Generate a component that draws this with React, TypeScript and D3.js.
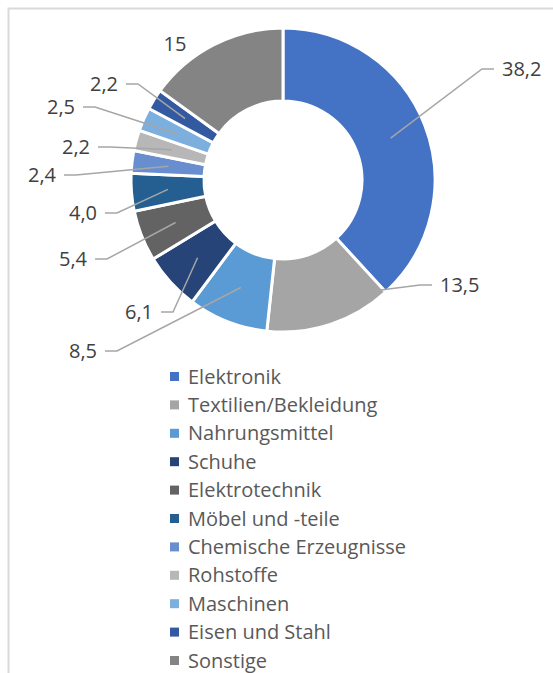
import React, { useEffect, useRef } from "react";
import * as d3 from "d3";

const categories = [
  "Elektronik",
  "Textilien/Bekleidung",
  "Nahrungsmittel",
  "Schuhe",
  "Elektrotechnik",
  "Möbel und -teile",
  "Chemische Erzeugnisse",
  "Rohstoffe",
  "Maschinen",
  "Eisen und Stahl",
  "Sonstige",
];
const values = [38.2, 13.5, 8.5, 6.1, 5.4, 4.0, 2.4, 2.2, 2.5, 2.2, 15];
const valueLabels = ["38,2", "13,5", "8,5", "6,1", "5,4", "4,0", "2,4", "2,2", "2,5", "2,2", "15"];
const colors = [
  "#4472C4", "#A5A5A5", "#5B9BD5", "#264478", "#636363",
  "#255E91", "#698ED0", "#B7B7B7", "#7CAFDD", "#335AA1", "#848484",
];

// label layout (relative to the donut centre): where the leader line meets the label
const labelLayout = [
  { x: 211, y: -111, side: "right" },
  { x: 149, y: 105, side: "right", edge: true },
  { x: -178, y: 171, side: "left" },
  { x: -122, y: 132, side: "left" },
  { x: -188, y: 79, side: "left" },
  { x: -178, y: 33, side: "left" },
  { x: -219, y: -5, side: "left" },
  { x: -185, y: -33, side: "left" },
  { x: -200, y: -73, side: "left" },
  { x: -157, y: -96, side: "left" },
  { x: -108, y: -136, side: "none" },
];

const W = 553;
const H = 673;
const cx = 283;
const cy = 180;
const outerR = 152;
const innerR = 79;
const font = "'Open Sans', Lato, sans-serif";

function App() {
  const ref = useRef<SVGSVGElement>(null);

  useEffect(() => {
    const svg = d3.select(ref.current);
    svg.selectAll("*").remove();

    svg.append("rect")
      .attr("x", 8.5).attr("y", 8.5)
      .attr("width", 570).attr("height", 690)
      .attr("fill", "white")
      .attr("stroke", "#d9d9d9")
      .attr("stroke-width", 2);

    const pie = d3.pie<number>().sort(null).value((d) => d);
    const arcs = pie(values);
    const arc = d3.arc<d3.PieArcDatum<number>>().innerRadius(innerR).outerRadius(outerR);

    const g = svg.append("g").attr("transform", `translate(${cx},${cy})`);

    g.selectAll("path.slice")
      .data(arcs)
      .enter()
      .append("path")
      .attr("class", "slice")
      .attr("d", arc)
      .attr("fill", (d, i) => colors[i])
      .attr("stroke", "white")
      .attr("stroke-width", 3);

    const pointAt = (angle: number, r: number) => [r * Math.sin(angle), -r * Math.cos(angle)];

    arcs.forEach((d, i) => {
      const lay = labelLayout[i];
      if (lay.side === "none") {
        g.append("text")
          .attr("x", lay.x).attr("y", lay.y)
          .attr("dy", "0.35em")
          .attr("text-anchor", "middle")
          .style("font-family", font)
          .style("font-size", "20px")
          .attr("fill", "#404040")
          .text(valueLabels[i]);
        return;
      }
      const anchor = lay.edge
        ? pointAt(d.startAngle + (d.endAngle - d.startAngle) * 0.03, outerR - 6)
        : arc.centroid(d);
      const dir = lay.side === "left" ? 1 : -1;
      const elbow = [lay.x + dir * 12, lay.y];
      g.append("polyline")
        .attr("points", [[lay.x, lay.y], elbow, anchor].map((p) => p.join(",")).join(" "))
        .attr("fill", "none")
        .attr("stroke", "#a6a6a6")
        .attr("stroke-width", 1.5);
      g.append("text")
        .attr("x", lay.x - dir * 8)
        .attr("y", lay.y)
        .attr("dy", "0.35em")
        .attr("text-anchor", lay.side === "left" ? "end" : "start")
        .style("font-family", font)
        .style("font-size", "20px")
        .attr("fill", "#404040")
        .text(valueLabels[i]);
    });

    const legend = svg.append("g").attr("transform", "translate(170,376.5)");
    categories.forEach((c, i) => {
      const row = legend.append("g").attr("transform", `translate(0,${i * 28.4})`);
      row.append("rect")
        .attr("x", 0).attr("y", -4.5)
        .attr("width", 9).attr("height", 9)
        .attr("fill", colors[i]);
      row.append("text")
        .attr("x", 18)
        .attr("y", 0)
        .attr("dy", "0.35em")
        .style("font-family", font)
        .style("font-size", "20px")
        .attr("fill", "#595959")
        .text(c);
    });
  }, []);

  return (
    <svg
      ref={ref}
      width={W}
      height={H}
      style={{ position: "absolute", left: 0, top: 0, background: "white" }}
    />
  );
}

export default App;
